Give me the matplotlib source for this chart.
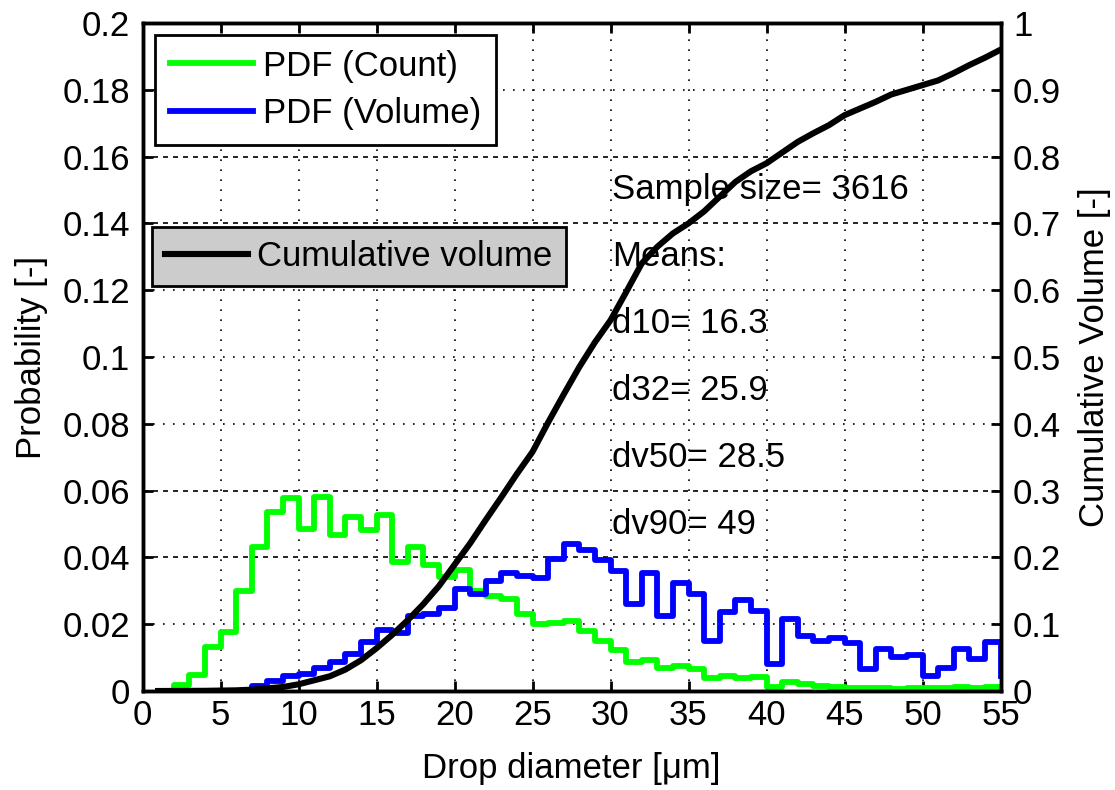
import matplotlib
matplotlib.use("Agg")
import matplotlib.pyplot as plt
import numpy as np

plt.rcParams['font.family'] = ['Liberation Sans', 'DejaVu Sans']

# ---- data ----
diam = list(range(1, 56))  # bin edges, µm

pdf_count = [0.0, 0.0018, 0.0048, 0.0133, 0.0176, 0.0298, 0.0432, 0.0537, 0.0577, 0.0484,
             0.0582, 0.0467, 0.0522, 0.0482, 0.0527, 0.0386, 0.0432, 0.0378, 0.0340, 0.0363,
             0.0299, 0.0284, 0.0274, 0.0232, 0.0200, 0.0205, 0.0210, 0.0180, 0.0150, 0.0122,
             0.0088, 0.0092, 0.0068, 0.0075, 0.0065, 0.0040, 0.0045, 0.0040, 0.0043, 0.0013,
             0.0026, 0.0020, 0.0014, 0.0013, 0.0010, 0.0008, 0.0010, 0.0007, 0.0008, 0.0010,
             0.0008, 0.0011, 0.0010, 0.0013, 0.0013]

pdf_volume = [0.0, 0.0, 0.0, 0.0, 0.0, 0.0, 0.0016, 0.0029, 0.0045, 0.0052,
              0.0070, 0.0086, 0.0112, 0.0146, 0.0182, 0.0173, 0.0226, 0.0232, 0.0250, 0.0304,
              0.0289, 0.0329, 0.0353, 0.0344, 0.0339, 0.0395, 0.0440, 0.0423, 0.0393, 0.0358,
              0.0259, 0.0353, 0.0225, 0.0324, 0.0289, 0.0150, 0.0238, 0.0272, 0.0241, 0.0081,
              0.0215, 0.0164, 0.0150, 0.0159, 0.0143, 0.0065, 0.0127, 0.0102, 0.0107, 0.0045,
              0.0070, 0.0127, 0.0096, 0.0148, 0.0045]

cum_x = [1, 4, 6, 7, 8, 9, 10, 11, 12, 13, 14, 15, 16, 17, 18, 19, 20, 21, 22, 23, 24, 25,
         26, 27, 28, 29, 30, 31, 32, 33, 34, 35, 36, 37, 38, 39, 40, 41, 42, 43, 44, 45, 46,
         47, 48, 49, 50, 51, 52, 53, 54, 55]
cum_vol = [0.0, 0.0003, 0.001, 0.002, 0.004, 0.006, 0.010, 0.016, 0.022, 0.032, 0.046, 0.064,
           0.084, 0.106, 0.130, 0.157, 0.189, 0.221, 0.256, 0.290, 0.325, 0.358, 0.402, 0.444,
           0.485, 0.522, 0.555, 0.597, 0.640, 0.665, 0.685, 0.700, 0.718, 0.740, 0.762, 0.778,
           0.790, 0.806, 0.822, 0.835, 0.847, 0.862, 0.872, 0.882, 0.893, 0.900, 0.907, 0.914,
           0.925, 0.937, 0.948, 0.960]

x_ticks = list(range(0, 60, 5))
y_ticks_left = [0, 0.02, 0.04, 0.06, 0.08, 0.1, 0.12, 0.14, 0.16, 0.18, 0.2]
y_ticks_right = [0, 0.1, 0.2, 0.3, 0.4, 0.5, 0.6, 0.7, 0.8, 0.9, 1]
y_labels_left = ['0', '0.02', '0.04', '0.06', '0.08', '0.1', '0.12', '0.14', '0.16', '0.18', '0.2']
y_labels_right = ['0', '0.1', '0.2', '0.3', '0.4', '0.5', '0.6', '0.7', '0.8', '0.9', '1']

stats_text = ['Sample size= 3616', 'Means:', 'd10= 16.3', 'd32= 25.9', 'dv50= 28.5', 'dv90= 49']

# ---- figure ----
FS = 25
fig = plt.figure(figsize=(11.15, 7.9), dpi=100)
ax1 = fig.add_axes([142.5 / 1115, 1 - 691 / 790, (1000.5 - 142.5) / 1115, (691 - 23) / 790])
ax2 = ax1.twinx()

l1, = ax1.step(diam, pdf_count, where='post', color='#00ff00', lw=4.2, label='PDF (Count)')
l2, = ax1.step(diam, pdf_volume, where='post', color='#0000ff', lw=4.2, label='PDF (Volume)')
l3, = ax2.plot(cum_x, cum_vol, color='black', lw=4.4, label='Cumulative volume')

ax1.set_xlim(0, 55)
ax1.set_ylim(0, 0.2)
ax2.set_ylim(0, 1)
ax1.set_xticks(x_ticks)
ax1.set_xticklabels([str(t) for t in x_ticks])
ax1.set_yticks(y_ticks_left)
ax1.set_yticklabels(y_labels_left)
ax2.set_yticks(y_ticks_right)
ax2.set_yticklabels(y_labels_right)

ax1.tick_params(axis='both', direction='in', length=7, width=2, labelsize=FS, top=True)
ax1.tick_params(axis='y', pad=9)
ax1.tick_params(axis='x', pad=6)
ax2.tick_params(axis='y', direction='in', length=7, width=2, labelsize=FS, pad=9)

for ax in (ax1, ax2):
    for s in ax.spines.values():
        s.set_linewidth(2.5)

ax1.grid(True, color='black', linestyle=(0, (1, 5)), linewidth=1.2)
dashed_vals = [0.04, 0.06, 0.14, 0.16]
for val, gl in zip(y_ticks_left, ax1.yaxis.get_gridlines()):
    if any(abs(val - d) < 1e-9 for d in dashed_vals):
        gl.set_linestyle((0, (3, 3)))
ax1.set_axisbelow(True)

ax1.set_xlabel('Drop diameter [μm]', fontsize=FS, labelpad=14)
ax1.set_ylabel('Probability [-]', fontsize=FS, labelpad=10)
ax2.set_ylabel('Cumulative Volume [-]', fontsize=FS, labelpad=12)

ty = 0.15
for t in stats_text:
    ax1.text(30.1, ty, t, fontsize=FS, va='center', ha='left')
    ty -= 0.02

leg1 = ax1.legend(handles=[l1, l2], loc='upper left', bbox_to_anchor=(0.0146, 0.982),
                  borderaxespad=0, fontsize=FS, frameon=True, fancybox=False,
                  edgecolor='black', facecolor='white', framealpha=1,
                  handlelength=2.4, handletextpad=0.3, labelspacing=0.42, borderpad=0.42)
leg1.get_frame().set_linewidth(2)
leg2 = ax2.legend(handles=[l3], loc='upper left', bbox_to_anchor=(0.011, 0.6946),
                  borderaxespad=0, fontsize=FS, frameon=True, fancybox=False,
                  edgecolor='black', facecolor='#cccccc', framealpha=1,
                  handlelength=2.4, handletextpad=0.25, borderpad=0.38)
leg2.get_frame().set_linewidth(2)

fig.savefig('out.png', dpi=100)
